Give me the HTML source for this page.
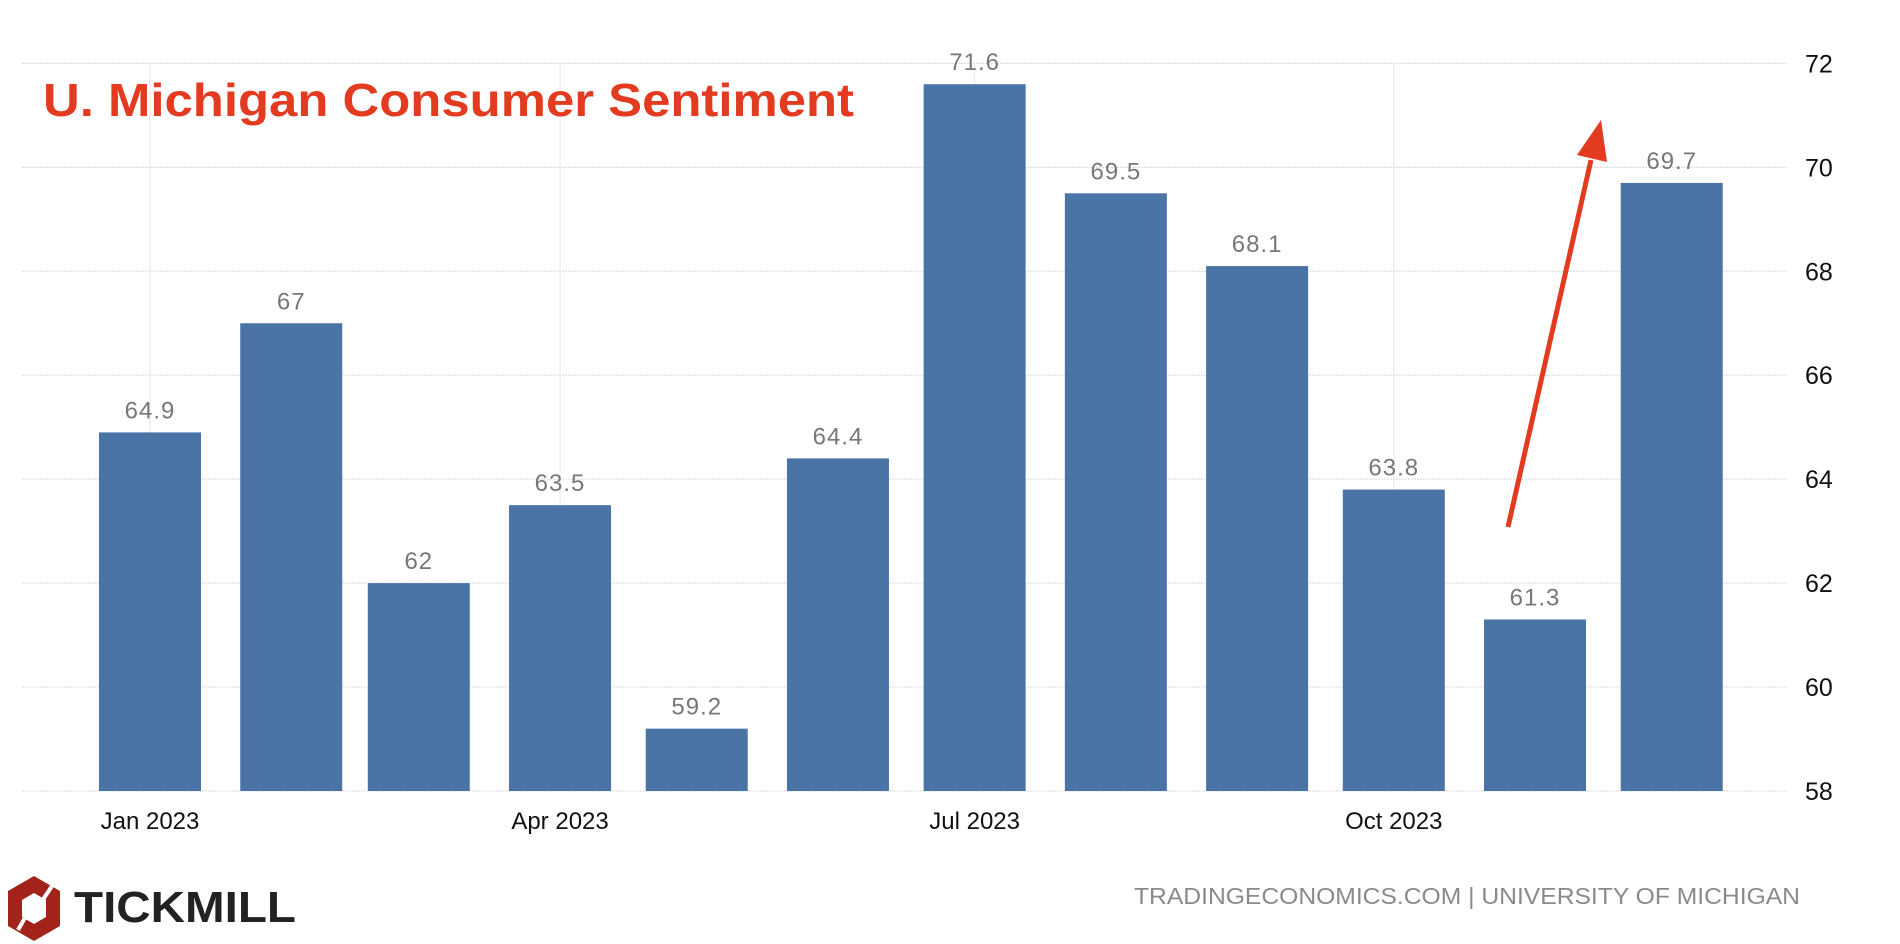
<!DOCTYPE html>
<html><head><meta charset="utf-8"><style>
html,body{margin:0;padding:0;background:#fff;}
svg{display:block;font-family:"Liberation Sans",sans-serif;}
</style></head><body>
<svg id="chart" width="1900" height="944" viewBox="0 0 1900 944">
<g id="grid"></g>
<g id="bars"></g>
<g id="labels"></g>
<g id="yaxis"></g>
<g id="xaxis"></g>
<text x="43" y="116" font-size="46" font-weight="bold" fill="#e23b1f" textLength="811" lengthAdjust="spacingAndGlyphs">U. Michigan Consumer Sentiment</text>
<g>
<line x1="1508" y1="527" x2="1591" y2="160" stroke="#e23b1f" stroke-width="5"/>
<polygon points="1601,120 1577,155 1607,162" fill="#e23b1f"/>
</g>
<g>
<polygon points="34,876 60,891 60,926 34,941 8,926 8,891" fill="#a3231a"/>
<polygon points="34,893 46,900 46,917 34,924 22,917 22,900" fill="#fff"/>
<line x1="18" y1="930" x2="26" y2="916" stroke="#fff" stroke-width="4"/>
<line x1="42" y1="901" x2="52" y2="886" stroke="#fff" stroke-width="4"/>
<text x="74" y="922" font-size="44" font-weight="bold" fill="#222" textLength="222" lengthAdjust="spacingAndGlyphs">TICKMILL</text>
</g>
<text x="1800" y="904" font-size="23" fill="#8a8a8a" text-anchor="end" textLength="666" lengthAdjust="spacingAndGlyphs">TRADINGECONOMICS.COM | UNIVERSITY OF MICHIGAN</text>
</svg>
<script>
const days = [0, 31, 59, 90, 120, 151, 181, 212, 243, 273, 304, 334];
const values = [64.9, 67, 62, 63.5, 59.2, 64.4, 71.6, 69.5, 68.1, 63.8, 61.3, 69.7];
const valueLabels = ["64.9", "67", "62", "63.5", "59.2", "64.4", "71.6", "69.5", "68.1", "63.8", "61.3", "69.7"];
const yTicks = [58, 60, 62, 64, 66, 68, 70, 72];
const xTickDays = [0, 90, 181, 273];
const xTickLabels = ["Jan 2023", "Apr 2023", "Jul 2023", "Oct 2023"];

const NS = "http://www.w3.org/2000/svg";
const xS = d => 150 + 4.556 * d;
const yS = v => 791 - (v - 58) * (791 - 63.4) / 14;
function mk(tag, attrs, parent, txt){
  const e = document.createElementNS(NS, tag);
  for (const k in attrs) e.setAttribute(k, attrs[k]);
  if (txt !== undefined) e.textContent = txt;
  parent.appendChild(e); return e;
}
const grid = document.getElementById('grid');
const bars = document.getElementById('bars');
const labels = document.getElementById('labels');
const yaxis = document.getElementById('yaxis');
const xaxis = document.getElementById('xaxis');
yTicks.forEach(t => {
  const l = mk('line', {x1: 22, x2: 1787, y1: yS(t), y2: yS(t), stroke: '#d8d8d8', 'stroke-width': 1, 'stroke-dasharray': '2,1'}, grid);
  
  
  const tx = mk('text', {x: 1805, y: yS(t) + 9, 'font-size': 25, fill: '#111'}, yaxis, String(t));
  
  
});
xTickDays.forEach((d, i) => {
  const l = mk('line', {x1: xS(d), x2: xS(d), y1: 63, y2: 791, stroke: '#e6e6e6', 'stroke-width': 1}, grid);
  
  
  const tx = mk('text', {x: xS(d), y: 829, 'font-size': 24, fill: '#111', 'text-anchor': 'middle'}, xaxis, xTickLabels[i]);
  
  
});
values.forEach((v, i) => {
  const cx = xS(days[i]);
  const r = mk('rect', {x: cx - 51, y: yS(v), width: 102, height: yS(58) - yS(v), fill: '#4a74a6'}, bars);
  
  
  const t = mk('text', {x: cx, y: yS(v) - 14, 'font-size': 24, fill: '#777', 'text-anchor': 'middle', 'letter-spacing': 1}, labels, valueLabels[i]);
  
  
});
</script>
</body></html>
